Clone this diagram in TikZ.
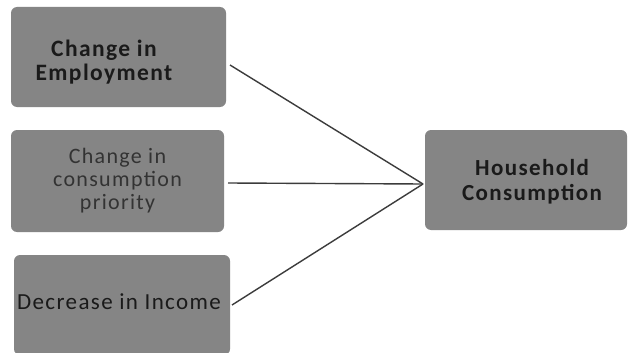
\documentclass[tikz,border=0pt]{standalone}
\usepackage{fontspec}
\setmainfont{Carlito}
\newfontfamily\spaced[LetterSpace=6]{Carlito}
\begin{document}
\begin{tikzpicture}[x=1pt,y=-1pt,
  box/.style={draw=none,fill=boxgray,rounded corners=6pt,inner sep=0pt,align=center},
  conn/.style={draw=linegray,line width=1.4pt}]
\definecolor{boxgray}{HTML}{858585}
\definecolor{linegray}{HTML}{3C3C3C}
\definecolor{txtdark}{HTML}{1A1A1A}
\definecolor{txtmid}{HTML}{333333}
\useasboundingbox[fill=white] (0,0) rectangle (629,353);
\node[box,minimum width=215pt,minimum height=100pt] (b1) at (118.5,57) {};
\node[box,minimum width=213pt,minimum height=102pt] (b2) at (117.5,181) {};
\node[box,minimum width=216pt,minimum height=100pt] (b3) at (122,305) {};
\node[box,minimum width=202pt,minimum height=100pt] (b4) at (526,180) {};
\node[font=\spaced\fontsize{23.5}{24}\selectfont\bfseries,text=txtdark,align=center] (t1) at (104,62) {Change in\\Employment};
\node[font=\spaced\fontsize{22}{23}\selectfont,text=txtmid,align=center] (t2) at (b2) {Change in\\consumption\\priority};
\node[font=\spaced\fontsize{23}{24}\selectfont,text=txtdark] (t3) at (119,302) {Decrease in Income};
\node[font=\spaced\fontsize{23}{25}\selectfont\bfseries,text=txtdark,align=center] (t4) at (532,182) {Household\\Consumption};
\coordinate (hub) at (423,184);
\coordinate (s1) at (230,65);
\coordinate (s2) at (228,183);
\coordinate (s3) at (232,305);
\draw[conn] (s1) -- (hub);
\draw[conn] (s2) -- (hub);
\draw[conn] (s3) -- (hub);
\end{tikzpicture}
\end{document}
